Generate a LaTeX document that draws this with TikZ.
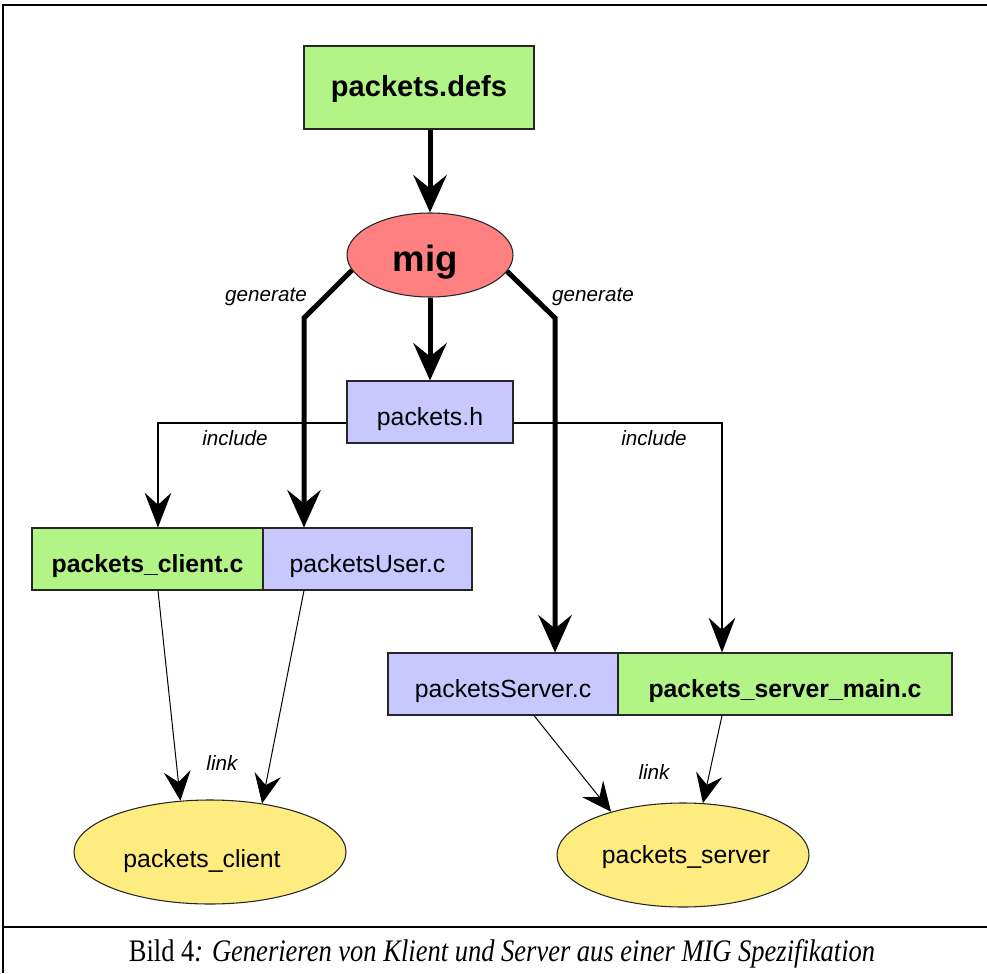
\documentclass[tikz,border=0pt]{standalone}
\usepackage{fontspec}
\setmainfont{Liberation Serif}
\setsansfont{Liberation Sans}
\usetikzlibrary{arrows.meta,shapes.geometric}
\definecolor{boxgreen}{RGB}{178,245,134}
\definecolor{boxblue}{RGB}{200,200,255}
\definecolor{boxred}{RGB}{255,128,128}
\definecolor{boxyellow}{RGB}{255,236,128}
\tikzset{
  fbox/.style={draw=black!85, line width=0.8pt, rectangle, inner sep=0pt, text height=20pt, text depth=0pt, font=\sffamily\fontsize{18.6}{22}\selectfont},
  gbox/.style={fbox, fill=boxgreen, font=\sffamily\bfseries\fontsize{18.6}{22}\selectfont},
  bbox/.style={fbox, fill=boxblue},
  yell/.style={draw=black!85, line width=0.8pt, ellipse, inner sep=0pt, fill=boxyellow},
  thickarr/.style={line width=3.75pt, line join=miter, -{Stealth[length=28pt, width=25pt, inset=10pt]}},
  incarr/.style={line width=1.5pt, -{Stealth[length=26pt, width=20pt, inset=9pt]}},
  linkarr/.style={line width=0.75pt, -{Stealth[length=22pt, width=20pt, inset=8pt]}},
  lbl/.style={font=\sffamily\itshape\fontsize{15.5}{18}\selectfont, inner sep=0pt},
  etext/.style={font=\sffamily\fontsize{18.6}{22}\selectfont, inner sep=0pt},
}
\begin{document}
\begin{tikzpicture}[x=0.75pt, y=-0.75pt]
\useasboundingbox (0,0) rectangle (987,973);
% frame
\draw[line width=1.3pt] (3,973) -- (3,5) -- (987,5);
\draw[line width=1.5pt] (3,927) -- (987,927);
% nodes
\node[gbox, minimum width=230*0.75pt, minimum height=83*0.75pt, text height=14pt, font=\sffamily\bfseries\fontsize{21.8}{26}\selectfont] (defs) at (419,87.5) {packets.defs};
\node[ellipse, draw=black!85, line width=0.8pt, fill=boxred, minimum width=166*0.75pt, minimum height=84*0.75pt, inner sep=0pt, text height=25pt, text depth=0pt, font=\sffamily\bfseries\fontsize{27.4}{32}\selectfont] (mig) at (430,255) {mig\hspace*{7pt}};
\node[bbox, minimum width=166*0.75pt, minimum height=62*0.75pt] (h) at (430,412) {packets.h};
\node[gbox, minimum width=231*0.75pt, minimum height=62*0.75pt] (client) at (147.5,559) {packets\_client.c};
\node[bbox, minimum width=209*0.75pt, minimum height=62*0.75pt] (user) at (367.5,559) {packetsUser.c};
\node[bbox, minimum width=230*0.75pt, minimum height=62*0.75pt] (srv) at (503,684) {packetsServer.c};
\node[gbox, minimum width=334*0.75pt, minimum height=62*0.75pt] (main) at (785,684) {packets\_server\_main.c};
\node[yell, minimum width=272*0.75pt, minimum height=104*0.75pt] (pc) at (210,852) {};
\node[etext] (pctext) at (202,861) {packets\_client};
\node[yell, minimum width=252*0.75pt, minimum height=104*0.75pt] (ps) at (683,855) {};
\node[etext] (pstext) at (686,857) {packets\_server};
% helper coordinates
\coordinate (gl) at (304,318);
\coordinate (gr) at (555,318);
\coordinate (il) at (158,423);
\coordinate (ir) at (722,423);
% connectors
\draw[thickarr] (mig.north |- defs.south) -- (mig.north);
\draw[thickarr] (mig.south) -- (h.north);
\draw[thickarr] (mig.191) -- (gl) -- (gl |- user.north);
\draw[thickarr] (mig.-12) -- (gr) -- (gr |- srv.north);
\draw[incarr] (il -| h.west) -- (il) -- (il |- client.north);
\draw[incarr] (ir -| h.east) -- (ir) -- (ir |- main.north);
\draw[linkarr] ([xshift=10.5*0.75pt]client.south) -- (pc.120);
\draw[linkarr] ([xshift=-63.5*0.75pt]user.south) -- (pc.43);
\draw[linkarr] ([xshift=31*0.75pt]srv.south) -- (ps.149);
\draw[linkarr] ([xshift=-63*0.75pt]main.south) -- (ps.69);
% labels
\node[lbl] (g1) at (266,297) {generate};
\node[lbl] (g2) at (593,297) {generate};
\node[lbl] (i1) at (235,438) {include};
\node[lbl] (i2) at (654,438) {include};
\node[lbl] (l1) at (222,763) {link};
\node[lbl] (l2) at (654,772) {link};
% caption
\node[inner sep=0pt, font=\fontsize{23.5}{28}\selectfont] (cap) at (502,954) {\scalebox{0.846}[1]{Bild 4\textit{: Generieren von Klient und Server aus einer MIG Spezifikation}}};
\end{tikzpicture}
\end{document}
